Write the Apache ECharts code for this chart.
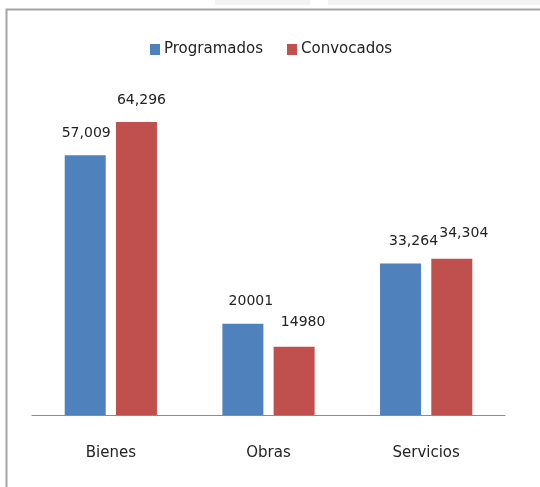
<!DOCTYPE html>
<html>
<head>
<meta charset="utf-8">
<script src="https://cdn.jsdelivr.net/npm/echarts@6/dist/echarts.min.js"></script>
<style>
  html, body { margin: 0; padding: 0; background: #ffffff; }
  #chart { width: 540px; height: 487px; }
</style>
</head>
<body>
<div id="chart"></div>
<script>
// Categories and values
const categories = ['Bienes', 'Obras', 'Servicios'];
const programados = [57009, 20001, 33264];
const convocados = [64296, 14980, 34304];
// Whether each category's labels use a thousands separator
const groupDigits = [true, false, true];

// Label nudges per bar [dx, dy]
const progShift = [[1, 0], [8, 0], [13, 0]];
const convShift = [[5, 0], [9, -2], [12, -3]];

const FONT = 'DejaVu Sans';

function fmt(v, i) {
  return groupDigits[i] ? v.toLocaleString('en-US') : String(v);
}

function seriesData(values, shifts) {
  return values.map((v, i) => ({
    value: v,
    label: { offset: shifts[i] }
  }));
}

const chart = echarts.init(document.getElementById('chart'), null, { renderer: 'canvas' });

const labelStyle = {
  show: true,
  position: 'top',
  distance: 15,
  fontFamily: FONT,
  fontSize: 14,
  color: '#222222'
};

chart.setOption({
  backgroundColor: '#ffffff',
  animation: false,
  graphic: [
    { type: 'rect', shape: { x: 215, y: 0, width: 95, height: 5 }, style: { fill: '#f3f3f3' }, silent: true },
    { type: 'rect', shape: { x: 328, y: 0, width: 212, height: 5 }, style: { fill: '#f3f3f3' }, silent: true },
    { type: 'rect', shape: { x: 6.5, y: 9.5, width: 600, height: 600 }, style: { fill: 'none', stroke: '#a3a3a3', lineWidth: 2 }, silent: true }
  ],
  legend: {
    left: 145,
    top: 37,
    itemWidth: 10,
    itemHeight: 11,
    itemGap: 24,
    icon: 'rect',
    textStyle: { fontFamily: FONT, fontSize: 15, color: '#222222', padding: [0, 0, 0, -1] },
    data: ['Programados', 'Convocados']
  },
  grid: { left: 32, right: 35, top: 75, bottom: 72, containLabel: false },
  xAxis: {
    type: 'category',
    data: categories,
    axisLine: { lineStyle: { color: '#8c8c8c', width: 1 } },
    axisTick: { show: false },
    axisLabel: { fontFamily: FONT, fontSize: 15, color: '#222222', margin: 31 }
  },
  yAxis: {
    type: 'value',
    min: 0,
    max: 74600,
    show: false,
    splitLine: { show: false }
  },
  series: [
    {
      name: 'Programados',
      type: 'bar',
      barWidth: 41,
      barGap: '25%',
      itemStyle: { color: '#4f81bd' },
      label: Object.assign({}, labelStyle, { formatter: p => fmt(p.value, p.dataIndex) }),
      data: seriesData(programados, progShift)
    },
    {
      name: 'Convocados',
      type: 'bar',
      barWidth: 41,
      barGap: '25%',
      itemStyle: { color: '#c0504d' },
      label: Object.assign({}, labelStyle, { formatter: p => fmt(p.value, p.dataIndex) }),
      data: seriesData(convocados, convShift)
    }
  ]
});
</script>
</body>
</html>
